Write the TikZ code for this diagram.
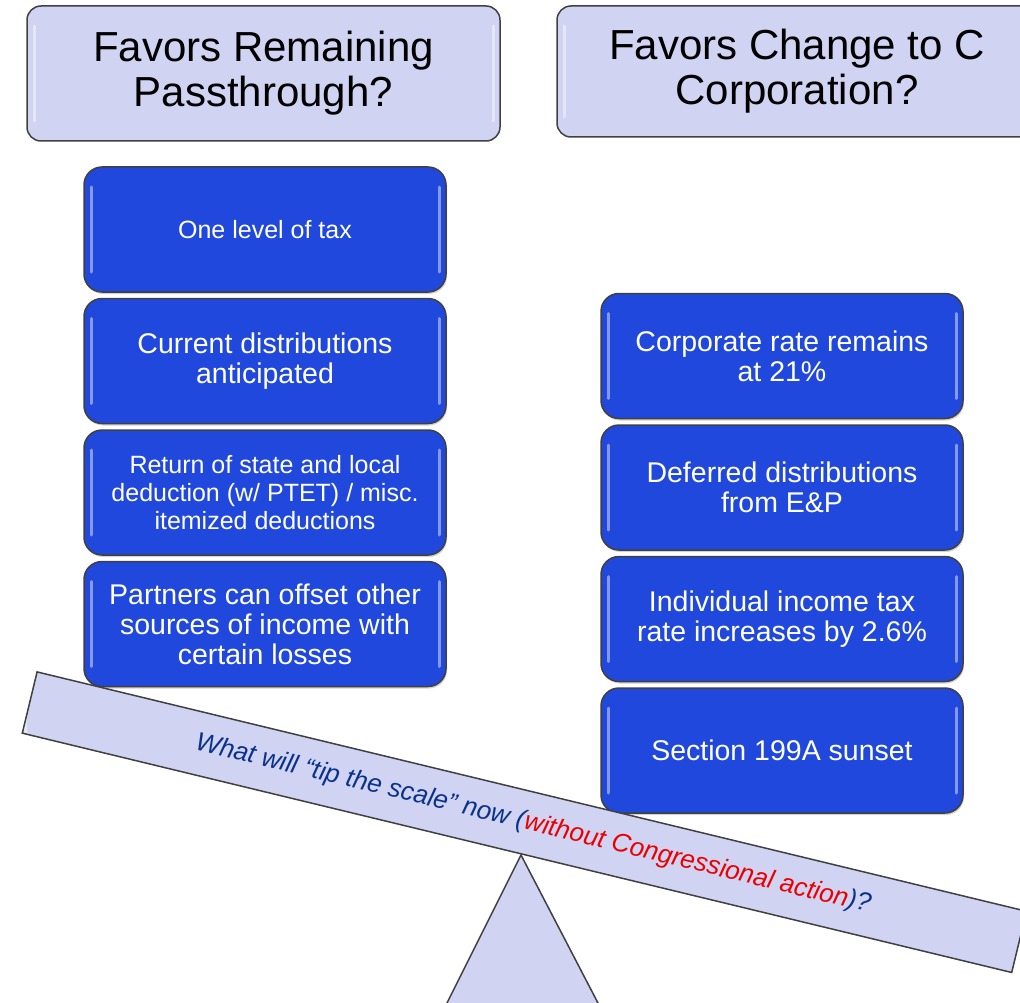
\documentclass[tikz,border=0pt]{standalone}
\usepackage{fontspec}
\setmainfont{Liberation Sans}
\usetikzlibrary{positioning,shadows}
\definecolor{headfill}{RGB}{208,211,242}
\definecolor{boxfill}{RGB}{33,72,220}
\definecolor{edgegray}{RGB}{64,64,64}
\definecolor{beamblue}{RGB}{10,50,140}
\definecolor{beamred}{RGB}{235,0,0}
\begin{document}
\begin{tikzpicture}[x=1pt, y=-1pt,
        gloss/.style={path picture={
            \draw[white, opacity=.45, line width=3pt, line cap=round]
                ([xshift=7pt, yshift=-20pt]path picture bounding box.north west) --
                ([xshift=7pt, yshift=20pt]path picture bounding box.south west);
            \draw[white, opacity=.45, line width=3pt, line cap=round]
                ([xshift=-7pt, yshift=-20pt]path picture bounding box.north east) --
                ([xshift=-7pt, yshift=20pt]path picture bounding box.south east);}},
        header/.style={draw=edgegray, fill=headfill, rounded corners=14pt,
            line width=1.5pt, minimum width=473pt, minimum height=135pt,
            align=center, inner sep=0pt, gloss,
            font=\fontsize{42}{45}\selectfont},
        reason/.style={draw=edgegray, fill=boxfill, rounded corners=18pt,
            line width=1.5pt, minimum width=362pt, minimum height=125pt,
            align=center, inner sep=0pt, text=white, gloss,
            drop shadow={opacity=.35, shadow xshift=1pt, shadow yshift=-2pt},
            font=\fontsize{28.5}{30}\selectfont},
        smalltext/.style={font=\fontsize{25}{28}\selectfont}]
    \useasboundingbox (0,0) rectangle (1020,1003);
    \clip (0,0) rectangle (1020,1003);

    % column headers
    \node[header] (remain) at (263.5,73.5) {Favors Remaining\\Passthrough?};
    \node[header, minimum width=480pt, minimum height=131pt] (change) at (797,71.5)
        {Favors Change to C\\Corporation?};

    % passthrough side
    \node[reason, smalltext] (onelevel) at (265,229.5) {One level of tax};
    \node[reason, below=5pt of onelevel] (currdist) {Current distributions\\anticipated};
    \node[reason, smalltext, below=5pt of currdist] (salt)
        {Return of state and local\\deduction (w/ PTET) / misc.\\itemized deductions};
    \node[reason, below=5pt of salt] (losses)
        {Partners can offset other\\sources of income with\\certain losses};

    % C corporation side
    \node[reason] (corprate) at (782,356) {Corporate rate remains\\at 21\%};
    \node[reason, below=5pt of corprate] (deferred) {Deferred distributions\\from E\&P};
    \node[reason, below=5pt of deferred] (indrate) {Individual income tax\\rate increases by 2.6\%};
    \node[reason, below=5pt of indrate] (sunset) {Section 199A sunset};

    % scale
    \coordinate (apex) at (521,855);
    \filldraw[draw=edgegray, fill=headfill, line width=1.5pt]
        (apex) -- (601.6,1010) -- (443.5,1010) -- cycle;
    \node[draw=edgegray, fill=headfill, line width=1.5pt, gloss,
        minimum width=1018pt, minimum height=63pt, inner sep=0pt, rotate=-13.6,
        font=\fontsize{26}{30}\selectfont\itshape, text=beamblue] (beam) at (524.4,822.2)
        {\hspace*{18pt}What will “tip the scale” now (\textcolor{beamred}{without Congressional action})?};
\end{tikzpicture}
\end{document}
